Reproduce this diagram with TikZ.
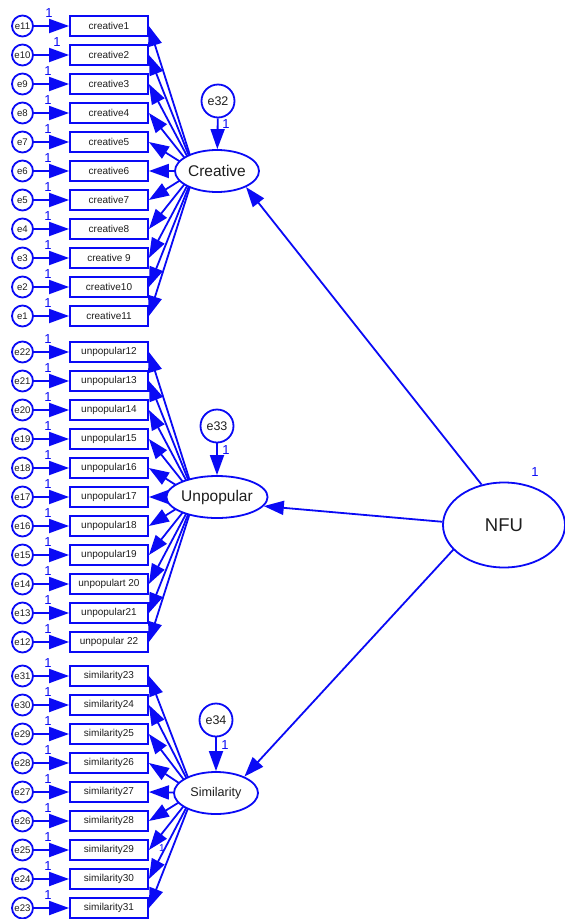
\documentclass[tikz,border=0pt]{standalone}
\usepackage{fontspec}
\setmainfont{Liberation Sans}
\usetikzlibrary{arrows.meta,shapes.geometric,backgrounds}
\definecolor{amos}{RGB}{10,10,245}
\definecolor{txt}{RGB}{30,30,30}
\begin{document}
\begin{tikzpicture}[x=1pt,y=-1pt,
  arr/.style={draw=amos, line width=1.8pt, -{Triangle[length=20pt,width=14pt]}},
  box/.style={draw=amos, line width=1.8pt, fill=white, minimum width=78pt, minimum height=20pt, inner sep=0pt, text=txt, font=\fontsize{10}{10}\selectfont},
  err/.style={circle, draw=amos, line width=1.8pt, fill=white, minimum size=21pt, inner sep=0pt, text=txt, font=\fontsize{9.6}{9.6}\selectfont},
  errbig/.style={circle, draw=amos, line width=1.8pt, fill=white, minimum size=33pt, inner sep=0pt, text=txt, font=\fontsize{12.5}{12.5}\selectfont},
  fac/.style={ellipse, draw=amos, line width=1.8pt, fill=white, minimum width=84pt, minimum height=42pt, inner sep=0pt, text=txt},
  one/.style={text=amos, inner sep=0pt, font=\fontsize{13}{13}\selectfont}
]
\useasboundingbox (0,0) rectangle (565,919);

% factors
\node[fac, font=\fontsize{15.5}{15.5}\selectfont] (C) at (217,171) {Creative};
\node[fac, font=\fontsize{15.5}{15.5}\selectfont] (U) at (217,497) {Unpopular};
\node[fac, font=\fontsize{12.6}{12.6}\selectfont] (S) at (216,793) {Similarity};
\node[ellipse, draw=amos, line width=1.8pt, fill=white, minimum width=122pt, minimum height=85pt, inner sep=0pt, text=txt, font=\fontsize{18.5}{18.5}\selectfont] (N) at (504,525) {NFU};
\node[one] (n1) at (535,472) {1};

\coordinate (Cc) at (195,171);
\coordinate (Uc) at (195,497);
\coordinate (Sc) at (194,793);

% residuals of factors
\node[errbig] (e32) at (218,101) {e32};
\node[errbig] (e33) at (217,426) {e33};
\node[errbig] (e34) at (216,720) {e34};
\draw[arr] (e32) -- (C);
\draw[arr] (e33) -- (U);
\draw[arr] (e34) -- (S);
\node[one] (l32) at (226,124) {1};
\node[one] (l33) at (226,450) {1};
\node[one] (l34) at (225,745) {1};

% NFU paths
\draw[arr] (N.119) -- (C.-29);
\draw[arr] (N.177) -- (U.-11);
\draw[arr] (N.206) -- (S.30);

% indicators
\foreach \i/\y/\lab/\e/\lx in {1/26/creative1/e11/49, 2/55/creative2/e10/57, 3/84/creative3/e9/48, 4/113/creative4/e8/48, 5/142/creative5/e7/48, 6/171/creative6/e6/48, 7/200/creative7/e5/48, 8/229/creative8/e4/48, 9/258/{creative 9}/e3/48, 10/287/creative10/e2/48, 11/316/creative11/e1/48}{
  \node[box] (b\i) at (109,\y) {\lab};
  \node[err] (r\i) at (22.5,\y) {\e};
  \draw[arr] (r\i) -- (b\i);
  \node[one] (o\i) at (\lx,\y-13) {1};
  \begin{pgfonlayer}{background}
    \draw[arr] (Cc) -- (b\i.east);
  \end{pgfonlayer}
}
\foreach \i/\y/\lab/\e in {12/352/unpopular12/e22, 13/381/unpopular13/e21, 14/410/unpopular14/e20, 15/439/unpopular15/e19, 16/468/unpopular16/e18, 17/497/unpopular17/e17, 18/526/unpopular18/e16, 19/555/unpopular19/e15, 20/584/{unpopulart 20}/e14, 21/613/unpopular21/e13, 22/642/{unpopular 22}/e12}{
  \node[box] (b\i) at (109,\y) {\lab};
  \node[err] (r\i) at (22.5,\y) {\e};
  \draw[arr] (r\i) -- (b\i);
  \node[one] (o\i) at (48,\y-13) {1};
  \begin{pgfonlayer}{background}
    \draw[arr] (Uc) -- (b\i.east);
  \end{pgfonlayer}
}
\foreach \i/\y/\lab/\e in {23/676/similarity23/e31, 24/705/similarity24/e30, 25/734/similarity25/e29, 26/763/similarity26/e28, 27/792/similarity27/e27, 28/821/similarity28/e26, 29/850/similarity29/e25, 30/879/similarity30/e24, 31/908/similarity31/e23}{
  \node[box] (b\i) at (109,\y) {\lab};
  \node[err] (r\i) at (22.5,\y) {\e};
  \draw[arr] (r\i) -- (b\i);
  \node[one] (o\i) at (48,\y-13) {1};
  \begin{pgfonlayer}{background}
    \draw[arr] (Sc) -- (b\i.east);
  \end{pgfonlayer}
}
\node[one, font=\fontsize{10}{10}\selectfont] (s1) at (162,848) {1};
\end{tikzpicture}
\end{document}
